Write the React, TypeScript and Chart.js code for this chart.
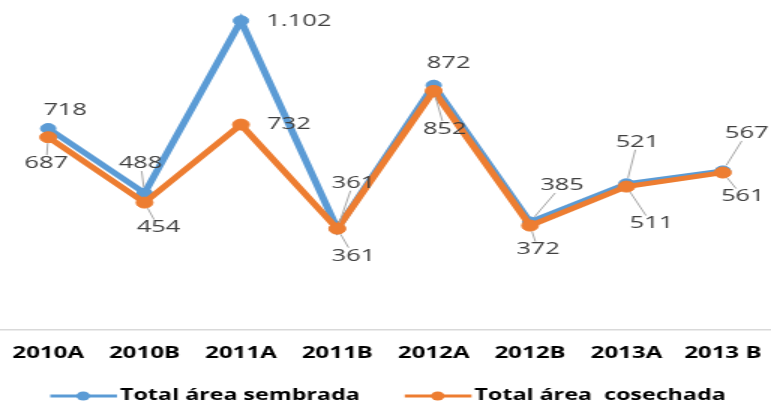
import { useEffect, useRef } from 'react';
import { Chart, registerables } from 'chart.js';

Chart.register(...registerables);

const categories = ['2010A', '2010B', '2011A', '2011B', '2012A', '2012B', '2013A', '2013 B'];
const sembrada = [718, 488, 1102, 361, 872, 385, 521, 567];
const cosechada = [687, 454, 732, 361, 852, 372, 511, 561];
const seriesNames = ['Total área sembrada', 'Total área  cosechada'];

// The reference picture is horizontally stretched: draw at a narrower width and stretch via CSS.
const OUT_W = 771;
const OUT_H = 405;
const STRETCH = 1.5;
const CANVAS_W = Math.round(OUT_W / STRETCH);

// label offsets (dx, dy in output pixels, leader flag) relative to each point — styling only
const sembradaLabelPos = [[17, -18, 0], [-4, -30, 1], [58, 0, 0], [16, -46, 1], [15, -22, 0], [32, -37, 1], [11, -42, 1], [24, -38, 1]];
const cosechadaLabelPos = [[-2, 26, 1], [14, 25, 1], [48, 0, 0], [16, 27, 1], [11, 38, 1], [8, 24, 1], [25, 37, 1], [20, 24, 1]];

const fmt = (v: number) => String(v).replace(/\B(?=(\d{3})+(?!\d))/g, '.');

const labelsPlugin = {
  id: 'pointLabels',
  afterDatasetsDraw(chart: any) {
    const ctx = chart.ctx;
    ctx.save();
    ctx.font = '17px "Open Sans"';
    ctx.textAlign = 'center';
    ctx.textBaseline = 'middle';
    chart.data.datasets.forEach((ds: any, di: number) => {
      const meta = chart.getDatasetMeta(di);
      const pos = ds.labelPos as number[][];
      meta.data.forEach((pt: any, i: number) => {
        const dx = pos[i][0] / STRETCH;
        const dy = pos[i][1];
        const leader = pos[i][2];
        const text = fmt(ds.data[i]);
        const lx = pt.x + dx;
        const ly = pt.y + dy;
        if (leader) {
          const dist = Math.hypot(dx, dy);
          const ux = dx / dist;
          const uy = dy / dist;
          const hw = ctx.measureText(text).width / 2 + 1;
          const hh = 8;
          const r = Math.min(
            Math.abs(ux) > 1e-6 ? hw / Math.abs(ux) : 1e9,
            Math.abs(uy) > 1e-6 ? hh / Math.abs(uy) : 1e9
          );
          const s = 6;
          const e = dist - r;
          if (e > s + 1) {
            ctx.strokeStyle = '#a6a6a6';
            ctx.lineWidth = 1;
            ctx.beginPath();
            ctx.moveTo(pt.x + ux * s, pt.y + uy * s);
            ctx.lineTo(pt.x + ux * e, pt.y + uy * e);
            ctx.stroke();
          }
        }
        ctx.fillStyle = '#404040';
        ctx.fillText(text, lx, ly);
      });
    });
    ctx.restore();
  },
};

const legendPlugin = {
  id: 'lineLegend',
  afterDraw(chart: any) {
    const ctx = chart.ctx;
    ctx.save();
    ctx.font = 'bold 15.5px "Open Sans"';
    ctx.textBaseline = 'middle';
    ctx.textAlign = 'left';
    let x = 33.5;
    const y = 396;
    chart.data.datasets.forEach((ds: any) => {
      ctx.strokeStyle = ds.borderColor;
      ctx.lineWidth = 3;
      ctx.beginPath();
      ctx.moveTo(x, y);
      ctx.lineTo(x + 44.5, y);
      ctx.stroke();
      ctx.fillStyle = ds.borderColor;
      ctx.beginPath();
      ctx.arc(x + 22, y, 4.5, 0, Math.PI * 2);
      ctx.fill();
      ctx.fillStyle = '#000000';
      ctx.fillText(ds.label, x + 46.5, y);
      x += 46.5 + ctx.measureText(ds.label).width + 30;
    });
    ctx.restore();
  },
};

export default function App() {
  const ref = useRef<HTMLCanvasElement | null>(null);
  useEffect(() => {
    document.body.style.margin = '0';
    const canvas = ref.current!;
    const chart = new Chart(canvas, {
      type: 'line',
      data: {
        labels: categories,
        datasets: [
          {
            label: seriesNames[0],
            data: sembrada,
            borderColor: '#5B9BD5',
            backgroundColor: '#5B9BD5',
            pointBackgroundColor: '#5B9BD5',
            pointBorderColor: '#5B9BD5',
            borderWidth: 5,
            pointRadius: 5,
            pointBorderWidth: 1,
            tension: 0,
            order: 2,
            clip: false,
            labelPos: sembradaLabelPos,
          } as any,
          {
            label: seriesNames[1],
            data: cosechada,
            borderColor: '#ED7D31',
            backgroundColor: '#ED7D31',
            pointBackgroundColor: '#ED7D31',
            pointBorderColor: '#ED7D31',
            borderWidth: 5,
            pointRadius: 5.5,
            pointBorderWidth: 1,
            tension: 0,
            order: 1,
            clip: false,
            labelPos: cosechadaLabelPos,
          } as any,
        ],
      },
      options: {
        responsive: false,
        animation: false,
        devicePixelRatio: 1,
        layout: { autoPadding: false, padding: { top: 0, left: 0, right: 0, bottom: 41 } },
        plugins: {
          legend: { display: false },
          tooltip: { enabled: false },
        },
        scales: {
          x: {
            offset: true,
            grid: { display: false, drawTicks: false },
            border: { display: true, color: '#d9d9d9', width: 1.5 },
            ticks: {
              color: '#000000',
              font: { family: '"Open Sans"', size: 16, weight: 'bold' },
              padding: 14,
              maxRotation: 0,
              autoSkip: false,
            },
            afterFit: (s: any) => {
              s.paddingLeft = 0;
              s.paddingRight = 0;
              s.height = 34;
            },
          },
          y: {
            display: false,
            min: 0,
            max: 1176,
          },
        },
      },
      plugins: [labelsPlugin, legendPlugin],
    });
    return () => chart.destroy();
  }, []);
  return (
    <div style={{ position: 'absolute', left: 0, top: 0, width: OUT_W, height: OUT_H, background: '#ffffff' }}>
      <canvas
        ref={ref}
        width={CANVAS_W}
        height={OUT_H}
        style={{ display: 'block', width: OUT_W + 'px', height: OUT_H + 'px' }}
      />
    </div>
  );
}
